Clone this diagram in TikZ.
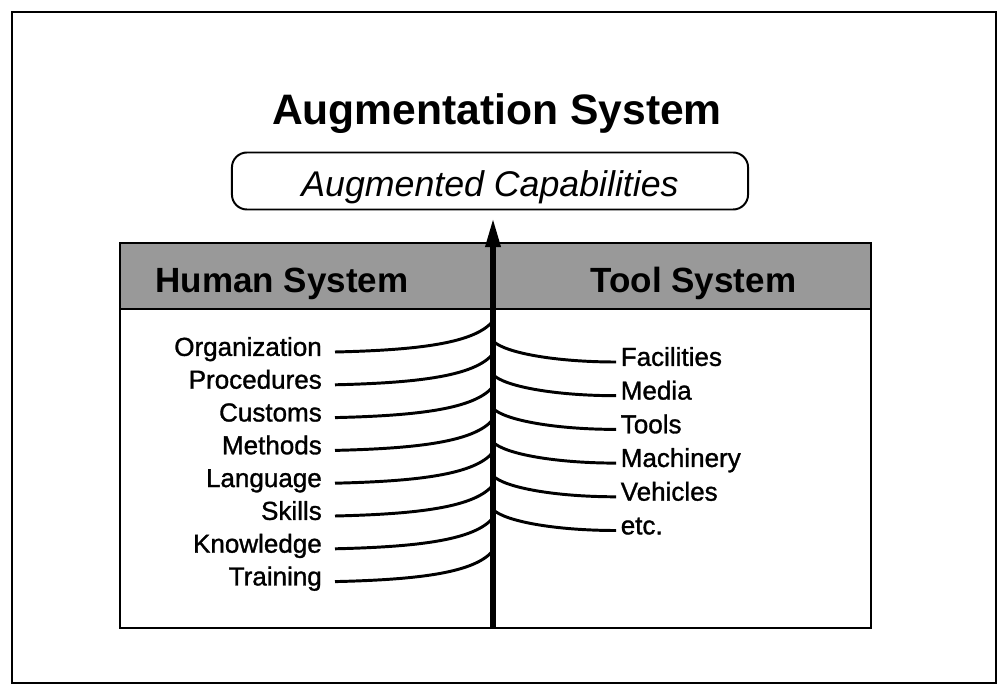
\documentclass[tikz,border=0pt]{standalone}
\usepackage{fontspec}
\setmainfont{Liberation Sans}
\newfontfamily\itemfont[FakeBold=1.2]{Liberation Sans}
\usetikzlibrary{positioning, arrows.meta}

\begin{document}
\begin{tikzpicture}[x=0.025cm, y=-0.025cm, >={Triangle[length=21pt, width=10pt]}, thick]
        \tikzset{
            item/.style={font=\itemfont\fontsize{18.5}{20}\selectfont, inner ysep=0pt, text height=0.75em, text depth=0.2em},
            header/.style={font=\fontsize{24.9}{28}\selectfont\bfseries, inner sep=0pt},
            branch/.style={line width=2.1pt}
        }
        \useasboundingbox (0,0) rectangle (1003,688);

        % Frame and panels
        \draw[line width=2pt] (12,12) rectangle (996,683);
        \draw[line width=1.6pt, fill=black!40] (120,243) rectangle (871,309);
        \draw[line width=2pt] (120,243) rectangle (871,628);

        % Nodes
        \node[font=\fontsize{30.3}{36}\selectfont\bfseries, anchor=base] (title) at (497,125) {Augmentation System};
        \node[draw, line width=1.4pt, rounded corners=0.375cm, minimum width=12.9cm, minimum height=1.425cm] (caps) at (490,181) {};
        \node[font=\fontsize{25.4}{30}\selectfont\itshape, anchor=base] (capstext) at (caps.center |- 0,197) {Augmented Capabilities};
        \node[header, anchor=base west] (human) at (155,292) {Human System};
        \node[header, anchor=base west] (tool) at (590,292) {Tool System};

        % Arrow
        \coordinate (root) at (493,628);
        \draw[->, line width=4.2pt, shorten >=5pt] (root) -- (root |- caps.south);

        % Human side
        \foreach \name [count=\i] in {Organization, Procedures, Customs, Methods, Language, Skills, Knowledge, Training} {
            \node[item, anchor=east, inner xsep=9pt] (h\i) at (335,{352+32.8*(\i-1)}) {\name};
            \coordinate (hh\i) at (493,{321+32.8*(\i-1)});
            \draw[branch] (h\i.east) .. controls +(85,-2) and +(-18,22) .. (hh\i);
        }

        % Tool side
        \foreach \name [count=\i] in {Facilities, Media, Tools, Machinery, Vehicles, etc.} {
            \node[item, anchor=west, inner xsep=3pt] (t\i) at (616,{362+33.7*(\i-1)}) {\name};
            \coordinate (tt\i) at (493,{341+33.7*(\i-1)});
            \draw[branch] (tt\i) .. controls +(12,12) and +(-60,0) .. (t\i.west);
        }
    \end{tikzpicture}
\end{document}
